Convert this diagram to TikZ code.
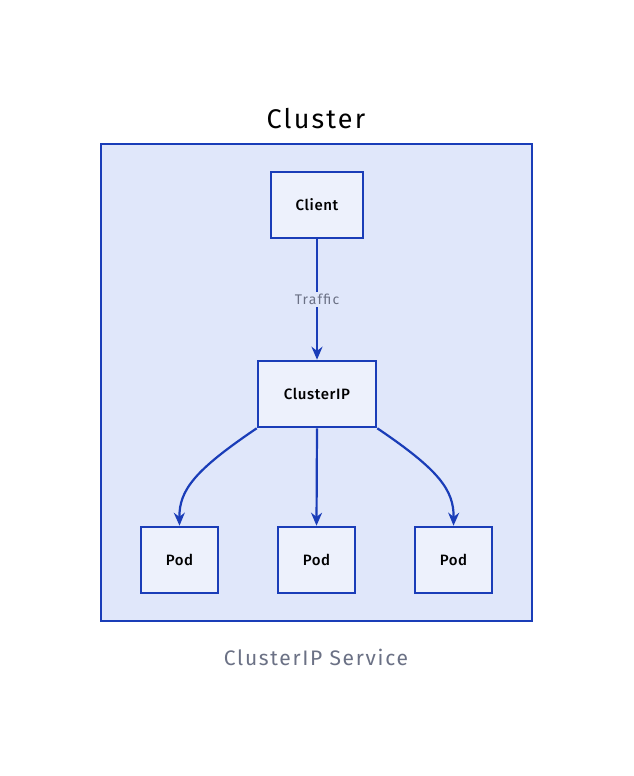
\documentclass[tikz,border=0pt]{standalone}
\usepackage{fontspec}
\setmainfont{Fira Sans}
\newfontfamily\medfont[LetterSpace=4]{Fira Sans Medium}
\newfontfamily\widefont[LetterSpace=8]{Fira Sans}
\usetikzlibrary{arrows.meta}
\definecolor{edge}{HTML}{1A3DB8}
\definecolor{clfill}{HTML}{E0E7FA}
\definecolor{ndfill}{HTML}{EDF1FC}
\definecolor{graytxt}{HTML}{6B7185}
\tikzset{
  box/.style={draw=edge, line width=2.6pt, fill=ndfill, minimum height=66pt, font=\medfont\fontsize{15}{18}\selectfont, text=black},
  conn/.style={draw=edge, line width=2.2pt, -{Stealth[length=13pt,width=11pt]}},
}
\begin{document}
\begin{tikzpicture}[x=1pt,y=-1pt]
\useasboundingbox (0,0) rectangle (633,776);
\fill[white] (0,0) rectangle (633,776);
\draw[draw=edge, line width=2.6pt, fill=clfill] (101,144) rectangle (532,621);
\node[font=\widefont\fontsize{27}{30}\selectfont, text=black] (title) at (316,119) {Cluster};
\node[font=\widefont\fontsize{21}{24}\selectfont, text=graytxt] (caption) at (316,657) {ClusterIP Service};
\node[box, minimum width=92pt] (client) at (317,205) {Client};
\node[box, minimum width=118pt] (cip) at (317,394) {ClusterIP};
\node[box, minimum width=77pt] (p1) at (179.5,560) {Pod};
\node[box, minimum width=77pt] (p2) at (316.5,560) {Pod};
\node[box, minimum width=77pt] (p3) at (453.5,560) {Pod};
\draw[conn] (client) -- node[fill=clfill, text=graytxt, font=\widefont\fontsize{14}{16}\selectfont, inner sep=2pt] {Traffic} (cip);
\draw[conn] (cip.south west) .. controls (195,470) and (179,490) .. (p1.north);
\draw[conn] (cip.south) -- (p2.north);
\draw[conn] (cip.south east) .. controls (439,470) and (454,490) .. (p3.north);
\end{tikzpicture}
\end{document}
